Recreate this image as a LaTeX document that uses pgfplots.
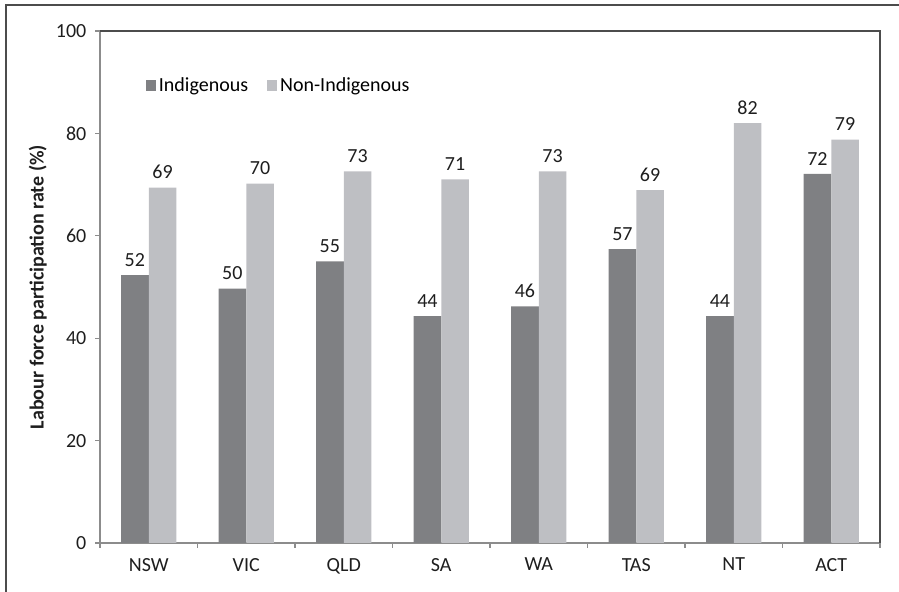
\documentclass[border=0pt]{standalone}
\usepackage{pgfplots}
\pgfplotsset{compat=1.18}
\usepackage{fontspec}
\setmainfont{Carlito}
\definecolor{darkbar}{RGB}{127,128,131}
\definecolor{lightbar}{RGB}{190,191,195}
\definecolor{axgray}{RGB}{140,140,140}
\definecolor{txt}{RGB}{30,30,30}
\begin{document}
\begin{tikzpicture}
\useasboundingbox (0,0) rectangle (674.25pt,444pt);
\draw[black!70, line width=0.9pt] (4.5pt,440.25pt) rectangle (690pt,-10pt);
\begin{axis}[
  at={(75pt,36.75pt)}, anchor=south west,
  width=585pt, height=384pt, scale only axis,
  xmin=-0.5, xmax=7.5, ymin=0, ymax=100,
  ybar=0pt, bar width=20.8pt,
  xtick={0,...,7}, xticklabels={NSW,VIC,QLD,SA,WA,TAS,NT,ACT},
  major x tick style={draw=none},
  minor xtick={-0.5,0.5,...,7.5},
  ytick={0,20,...,100},
  tick align=outside, xtick pos=lower, ytick pos=left,
  major tick length=3.75pt, minor tick length=3.75pt,
  tick style={axgray, line width=0.8pt},
  axis line style={axgray, line width=0.9pt},
  font=\fontsize{15}{18}\selectfont,
  tick label style={txt, font=\fontsize{15}{18}\selectfont},
  /pgf/number format/assume math mode=true,
  yticklabel style={xshift=-3pt},
  xticklabel style={yshift=-4pt},
  ylabel={\bfseries Labour force participation rate (\%)},
  ylabel style={txt, font=\fontsize{15}{18}\selectfont, yshift=0pt},
  nodes near coords,
  nodes near coords style={txt, font=\fontsize{15}{18}\selectfont, /pgf/number format/fixed, /pgf/number format/precision=0, yshift=3pt},
  legend style={draw=none, at={(0.053,0.893)}, anchor=west, legend columns=2, font=\fontsize{15}{18}\selectfont, fill=none,
    /tikz/every even column/.append style={column sep=12pt}},
  legend image code/.code={\fill[#1] (0pt,-4pt) rectangle (8pt,4pt);},
  legend cell align=left,
  clip=false,
]
\addplot[fill=darkbar, draw=none] coordinates {(0,52.3) (1,49.7) (2,55.0) (3,44.3) (4,46.2) (5,57.4) (6,44.3) (7,72.1)};
\addplot[fill=lightbar, draw=none] coordinates {(0,69.4) (1,70.2) (2,72.6) (3,71.0) (4,72.6) (5,68.9) (6,82.0) (7,78.8)};
\legend{Indigenous, Non-Indigenous}
\draw[black!70, line width=0.9pt] (rel axis cs:0,1) -- (rel axis cs:1,1) -- (rel axis cs:1,0);
\end{axis}
\end{tikzpicture}
\end{document}
